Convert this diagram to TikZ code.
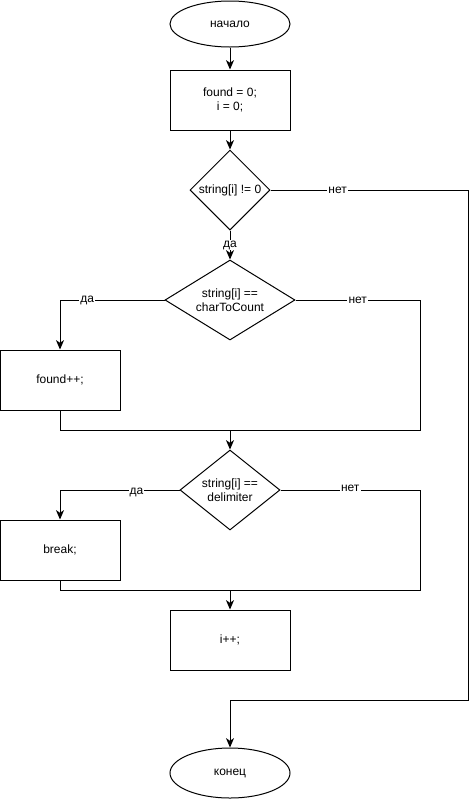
\documentclass[tikz,border=0pt]{standalone}
\usepackage{fontspec}
\setmainfont{Liberation Sans}
\usetikzlibrary{shapes.geometric,arrows.meta}
\begin{document}
\begin{tikzpicture}[x=0.75pt,y=-0.75pt,line width=0.75pt,
  every node/.style={font=\fontsize{9}{10.5}\selectfont},
  term/.style={ellipse,draw,minimum width=90pt,inner sep=0pt},
  proc/.style={rectangle,draw,minimum width=90pt,minimum height=45pt,align=center,inner sep=0pt},
  dec/.style={diamond,draw,inner sep=0pt},
  txt/.style={align=center,inner sep=0pt},
  lbl/.style={fill=white,inner sep=0.8pt},
  arr/.style={-{Stealth[length=7pt,width=6pt,inset=2pt]}}]
\path[use as bounding box] (0,0) rectangle (473,800);
\node[term,minimum height=34.5pt] (start) at (230,24) {начало};
\node[proc] (init) at (230,100) {found = 0;\\ i = 0;};
\node[dec,minimum width=60pt,minimum height=60pt] (d1) at (230,190) {};
\node[txt] (d1t) at (d1.center) {string[i] != 0};
\node[dec,minimum width=97.5pt,minimum height=60pt] (d2) at (230,300) {};
\node[txt] (d2t) at (d2.center) {string[i] ==\\ charToCount};
\node[proc] (inc) at (60,380) {found++;};
\node[dec,minimum width=75pt,minimum height=60pt] (d3) at (230,490) {};
\node[txt] (d3t) at (d3.center) {string[i] ==\\ delimiter};
\node[proc] (brk) at (60,550) {break;};
\node[proc] (ipp) at (230,640) {i++;};
\node[term,minimum height=37.5pt] (end) at (230,773) {конец};
\coordinate (m1) at (230,430);
\coordinate (m1l) at (60,430);
\coordinate (m1r) at (420,430);
\coordinate (m2) at (230,590);
\coordinate (m2l) at (60,590);
\coordinate (m2r) at (420,590);
\coordinate (e1) at (468,700);
\coordinate (e2) at (230,700);
\draw[arr] (start) -- (init);
\draw[arr] (init) -- (d1);
\draw[arr] (d1.south) -- node[lbl]{да} (d2.north);
\draw[arr] (d2.west) -| node[lbl,pos=0.37]{да} (inc.north);
\draw (d2.east) -| node[lbl,pos=0.25]{нет} (m1r) -- (m1l) -- (inc.south);
\draw[arr] (m1) -- (d3.north);
\draw[arr] (d3.west) -| node[lbl,pos=0.18,yshift=-2pt]{да} (brk.north);
\draw (d3.east) -| node[lbl,pos=0.25,yshift=1.5pt]{нет} (m2r) -- (m2l) -- (brk.south);
\draw[arr] (m2) -- (ipp.north);
\draw[arr] (d1.east) -| node[lbl,pos=0.17]{нет} (e1) -- (e2) -- (end.north);
\end{tikzpicture}
\end{document}
